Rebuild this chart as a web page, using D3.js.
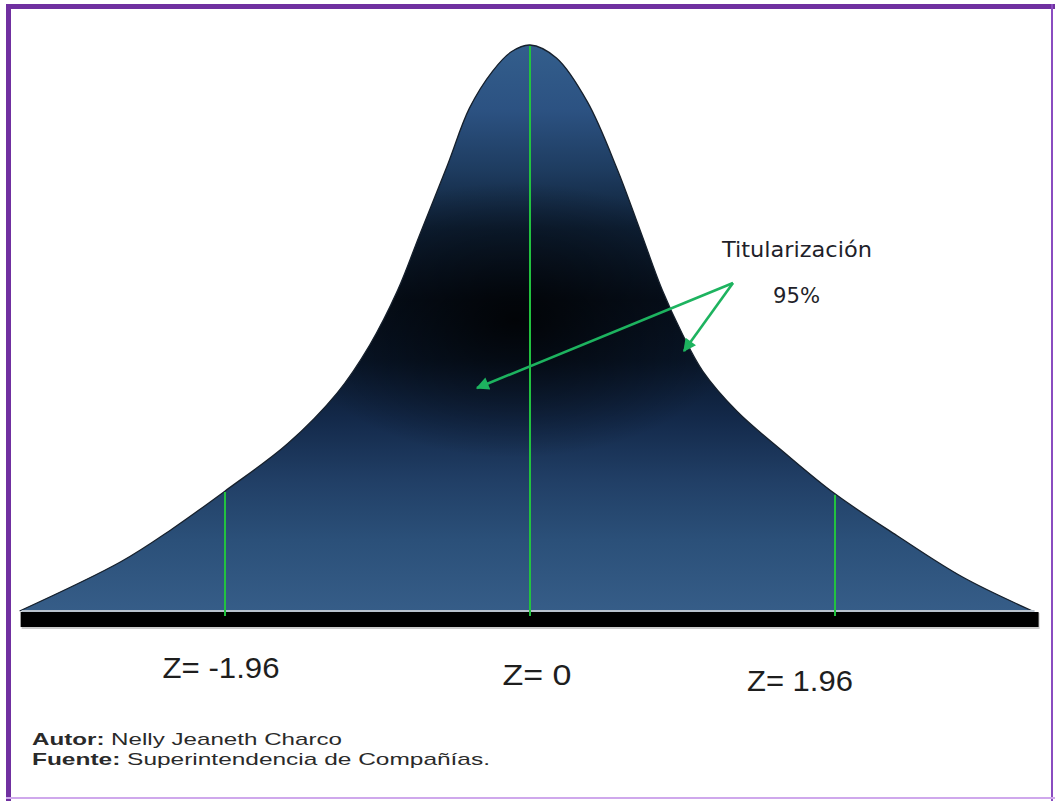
<!DOCTYPE html>
<html>
<head>
<meta charset="utf-8">
<script src="https://cdn.jsdelivr.net/npm/d3@7"></script>
<style>
  html, body { margin: 0; padding: 0; background: #ffffff; }
  svg { display: block; }
</style>
</head>
<body>
<svg id="chart" width="1055" height="801"></svg>
<script>
// ---- data ----
const zValues = [-3.28, -2.63, -2.30, -1.95, -1.56, -1.24, -1.03, -0.85, -0.71, -0.53, -0.39, -0.24, -0.12, 0,
                 0.17, 0.37, 0.56, 0.71, 0.85, 0.98, 1.11, 1.33, 1.63, 1.96, 2.36, 2.78, 3.23];
const densityValues = [0, 0.087, 0.145, 0.214, 0.295, 0.385, 0.470, 0.567, 0.664, 0.788, 0.888, 0.954, 0.988, 1.0,
                       0.977, 0.899, 0.781, 0.671, 0.567, 0.489, 0.424, 0.353, 0.281, 0.207, 0.133, 0.060, 0];
const zMarks = [-1.96, 0, 1.96];
const zLabels = ["Z= -1.96", "Z= 0", "Z= 1.96"];
const annotationLines = ["Titularización", "95%"];
const authorParts = ["Autor:", " Nelly Jeaneth Charco"];
const sourceParts = ["Fuente:", " Superintendencia de Compañías."];

// ---- drawing ----
const svg = d3.select("#chart");
const W = 1055, H = 801;
const baseY = 611, peakY = 45;

const x = d3.scaleLinear().domain([-3.4, 3.4]).range([530 - 3.4 * 155.6, 530 + 3.4 * 155.6]);
const y = d3.scaleLinear().domain([0, 1]).range([baseY, peakY]);

const pts = zValues.map((z, i) => ({ z, d: densityValues[i] }));

const defs = svg.append("defs");
const lg = defs.append("linearGradient")
  .attr("id", "bodyGrad").attr("gradientUnits", "userSpaceOnUse")
  .attr("x1", 0).attr("x2", 0).attr("y1", peakY).attr("y2", baseY);
[[0, "#335e8c"], [0.115, "#2c5282"], [0.22, "#1e3c60"], [0.325, "#0e2036"], [0.45, "#07111f"],
 [0.555, "#09172b"], [0.66, "#13294a"], [0.77, "#213f66"], [0.875, "#2b5079"], [1, "#365d88"]]
  .forEach(([o, c]) => lg.append("stop").attr("offset", o).attr("stop-color", c));

const rg = defs.append("radialGradient")
  .attr("id", "coreGrad").attr("gradientUnits", "userSpaceOnUse")
  .attr("cx", 515).attr("cy", 320).attr("r", 230)
  .attr("gradientTransform", "translate(515,320) scale(1,0.6) translate(-515,-320)");
[[0, 0.8], [0.4, 0.45], [1, 0]].forEach(([o, a]) =>
  rg.append("stop").attr("offset", o).attr("stop-color", "#000000").attr("stop-opacity", a));

const curve = d3.curveCatmullRom.alpha(0.5);
const area = d3.area()
  .x(p => x(p.z)).y0(y(0)).y1(p => y(p.d))
  .curve(curve);
const line = d3.line()
  .x(p => x(p.z)).y(p => y(p.d))
  .curve(curve);

svg.append("path").datum(pts).attr("d", area).attr("fill", "url(#bodyGrad)");
svg.append("path").datum(pts).attr("d", area).attr("fill", "url(#coreGrad)");
svg.append("path").datum(pts).attr("d", line)
  .attr("fill", "none").attr("stroke", "#16202c").attr("stroke-width", 1.3);

// baseline light line and black bar
const xStart = x(zValues[0]), xEnd = x(zValues[zValues.length - 1]);
svg.append("rect").attr("x", xStart + 2).attr("y", baseY + 2).attr("width", xEnd - xStart + 5).attr("height", 16)
  .attr("fill", "#9a9a9a").attr("opacity", 0.5);
svg.append("rect").attr("x", xStart + 1).attr("y", baseY + 1).attr("width", xEnd - xStart + 5).attr("height", 15)
  .attr("fill", "#000000");
svg.append("line").attr("x1", xStart + 2).attr("x2", xEnd + 2).attr("y1", baseY).attr("y2", baseY)
  .attr("stroke", "#b9c3ce").attr("stroke-width", 2);

// green z marks
function densityAt(z) {
  for (let i = 0; i < zValues.length - 1; i++) {
    if (z >= zValues[i] && z <= zValues[i + 1]) {
      const t = (z - zValues[i]) / (zValues[i + 1] - zValues[i]);
      return densityValues[i] + t * (densityValues[i + 1] - densityValues[i]);
    }
  }
  return 0;
}
svg.selectAll("line.zmark").data(zMarks).enter().append("line")
  .attr("class", "zmark")
  .attr("x1", z => x(z)).attr("x2", z => x(z))
  .attr("y1", z => y(densityAt(z)) + 1).attr("y2", baseY + 5)
  .attr("stroke", "#22c23f").attr("stroke-width", 2);

// z labels
const labelLayout = [
  { dx: -4, y: 678, w: 117 },
  { dx: 7, y: 685, w: 69 },
  { dx: -35, y: 691, w: 106 }
];
svg.selectAll("text.zlab").data(zLabels).enter().append("text")
  .attr("class", "zlab")
  .attr("x", (d, i) => x(zMarks[i]) + labelLayout[i].dx)
  .attr("y", (d, i) => labelLayout[i].y)
  .attr("text-anchor", "middle")
  .attr("font-family", "Liberation Sans, Arial, sans-serif")
  .attr("font-size", 30)
  .attr("fill", "#1e1e1e")
  .attr("textLength", (d, i) => labelLayout[i].w)
  .attr("lengthAdjust", "spacingAndGlyphs")
  .text(d => d);

// arrows
defs.append("marker").attr("id", "ahead").attr("viewBox", "0 0 10 10")
  .attr("refX", 9).attr("refY", 5).attr("markerWidth", 5.5).attr("markerHeight", 5)
  .attr("orient", "auto").attr("markerUnits", "strokeWidth")
  .append("path").attr("d", "M0,0 L10,5 L0,10 Z").attr("fill", "#1db35f");
const arrowFrom = [733, 283];
const arrowTargets = [[477, 388], [684, 351]];
svg.selectAll("line.arrow").data(arrowTargets).enter().append("line")
  .attr("class", "arrow")
  .attr("x1", arrowFrom[0]).attr("y1", arrowFrom[1])
  .attr("x2", d => d[0]).attr("y2", d => d[1])
  .attr("stroke", "#1db35f").attr("stroke-width", 2.6)
  .attr("marker-end", "url(#ahead)");

// annotation text
const annLayout = [{ x: 722, y: 257, w: 150 }, { x: 773, y: 303, w: 47 }];
svg.selectAll("text.ann").data(annotationLines).enter().append("text")
  .attr("class", "ann")
  .attr("x", (d, i) => annLayout[i].x).attr("y", (d, i) => annLayout[i].y)
  .attr("font-family", "DejaVu Sans Condensed, Liberation Sans Narrow, sans-serif")
  .attr("font-size", 22)
  .attr("fill", "#1f1f2a")
  .attr("textLength", (d, i) => annLayout[i].w)
  .attr("lengthAdjust", "spacingAndGlyphs")
  .text(d => d);

// footnote
function footLine(parts, yPos, w) {
  const t = svg.append("text").attr("x", 32).attr("y", yPos)
    .attr("font-family", "Liberation Sans, Arial, sans-serif").attr("font-size", 17)
    .attr("fill", "#2a2a2a")
    .attr("textLength", w).attr("lengthAdjust", "spacingAndGlyphs");
  t.append("tspan").attr("font-weight", "bold").text(parts[0]);
  t.append("tspan").text(parts[1]);
}
footLine(authorParts, 745, 310);
footLine(sourceParts, 765, 458);

// frame
svg.append("rect").attr("x", 6).attr("y", 4).attr("width", W - 6).attr("height", 5).attr("fill", "#7030a0");
svg.append("rect").attr("x", 6).attr("y", 4).attr("width", 5).attr("height", H - 4).attr("fill", "#7030a0");
svg.append("rect").attr("x", 1051).attr("y", 4).attr("width", 2).attr("height", H - 4).attr("fill", "#8a4cc0");
svg.append("rect").attr("x", 6).attr("y", 797).attr("width", W - 6).attr("height", 2).attr("fill", "#cfa8ec");
</script>
</body>
</html>
